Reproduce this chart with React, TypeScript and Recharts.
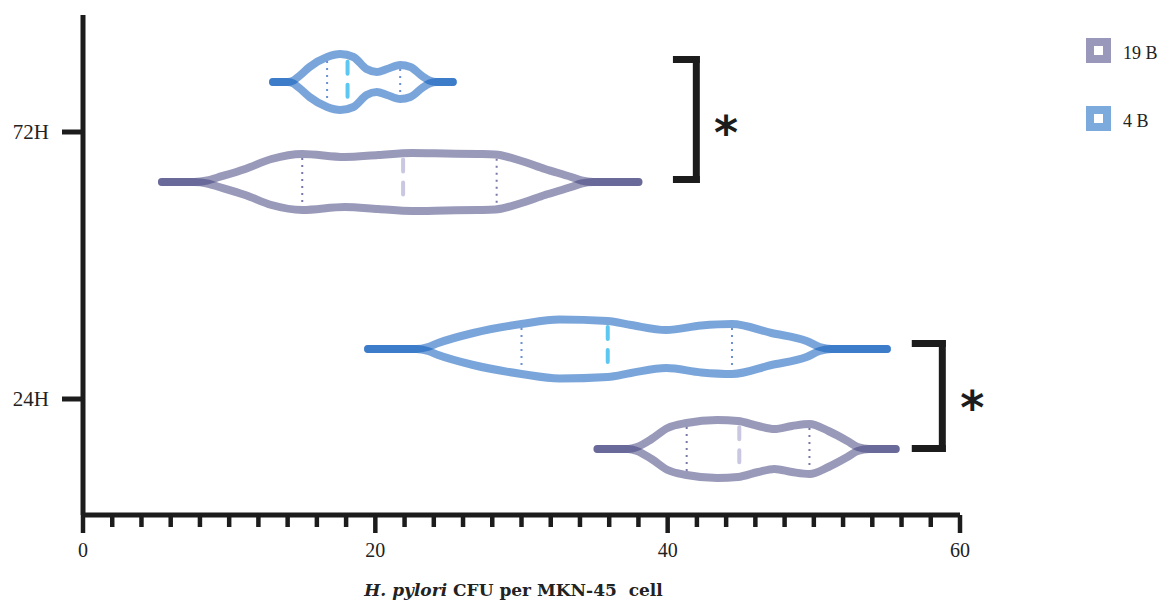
import React from 'react';
import {
  ComposedChart, Line, XAxis, YAxis, ReferenceLine, ReferenceDot, Legend,
} from 'recharts';

// y axis is a layout scale: groups sit at fixed heights, violins above/below
const groupLabels = ['24H', '72H'];
const groupPos = [116, 383];
const strainLabels = ['19 B', '4 B'];
const strainOffset = [-50, 50];

const xTicks = [
  0, 2, 4, 6, 8, 10, 12, 14, 16, 18, 20, 22, 24, 26, 28, 30,
  32, 34, 36, 38, 40, 42, 44, 46, 48, 50, 52, 54, 56, 58, 60,
];

// CFU grid and kernel density (half width) for each violin
const cfu72h4b = [13.0, 14.0, 14.4, 14.8, 15.5, 16.7, 17.6, 18.5, 19.4, 20.1, 20.8, 21.7, 22.4, 23.2, 23.7, 24.2, 25.3];
const dens72h4b = [0, 0, 1.5, 6, 15, 25, 28, 25, 13, 10, 13, 17, 15, 6, 1.5, 0, 0];

const cfu72h19b = [5.4, 7.6, 8.5, 9.2, 11.1, 12.9, 15.0, 17.9, 20.2, 22.5, 24.8, 27.0, 28.2, 30.0, 31.6, 33.4, 34.1, 34.9, 38.0];
const dens72h19b = [0, 0, 1.5, 4.5, 13, 23, 28, 25, 27, 29, 28.5, 28, 27.5, 21, 13, 5, 1.5, 0, 0];

const cfu24h4b = [19.5, 22.8, 23.6, 24.3, 26.7, 30.0, 32.6, 35.9, 37.5, 39.9, 42.3, 44.4, 47.1, 49.5, 50.4, 51.2, 55.0];
const dens24h4b = [0, 0, 2, 6, 16, 25, 29.5, 28, 24, 19, 23.5, 25, 16, 8, 2, 0, 0];

const cfu24h19b = [35.2, 37.3, 37.9, 38.9, 40.0, 41.3, 43.4, 44.8, 46.2, 47.3, 48.5, 49.7, 51.0, 52.3, 53.0, 53.8, 55.6];
const dens24h19b = [0, 0, 2, 10, 21, 26, 29, 28, 23, 20, 23, 25, 18, 8, 2, 0, 0];

// quartiles / medians
const q1Values = [16.7, 15.0, 30.0, 41.3];
const medianValues = [18.1, 21.9, 35.9, 44.9];
const q3Values = [21.7, 28.3, 44.4, 49.7];

const violins = [
  { group: 1, strain: 1, xs: cfu72h4b, ds: dens72h4b },
  { group: 1, strain: 0, xs: cfu72h19b, ds: dens72h19b },
  { group: 0, strain: 1, xs: cfu24h4b, ds: dens24h4b },
  { group: 0, strain: 0, xs: cfu24h19b, ds: dens24h19b },
];

// significance brackets: [x left, x spine], [y top, y bottom], star position
const bracketX = [[40.6, 41.96], [56.94, 58.79]];
const bracketY = [[455.5, 335.5], [171.5, 66.5]];
const starPos = [[44.0, 388.5], [60.84, 113]];

const strainStroke = ['#43427f', '#0a58bb'];
const strainLegend = ['#9997ba', '#7caadd'];
const strainMedian = ['#c9c7e1', '#5cc8f1'];
const strainQuart = ['#7978a8', '#6a8fd2'];
const ink = '#1c1c1c';

const densAt = (xs: number[], ds: number[], x: number) => {
  for (let i = 0; i < xs.length - 1; i++) {
    if (x >= xs[i] && x <= xs[i + 1]) {
      const t = (x - xs[i]) / (xs[i + 1] - xs[i]);
      return ds[i] + t * (ds[i + 1] - ds[i]);
    }
  }
  return 0;
};

const XTick = (props: any) => {
  const { x, y, payload } = props;
  const major = payload.value % 20 === 0;
  return (
    <g>
      <line x1={x} x2={x} y1={y} y2={y + (major ? 18 : 12)} stroke={ink} strokeWidth={4.5} />
      {major && (
        <text x={x} y={y + 42} textAnchor="middle" fill="#222" fontSize={20} fontFamily="'Liberation Serif', serif">
          {payload.value}
        </text>
      )}
    </g>
  );
};

const AxisTitle = (props: any) => {
  const vb = props.viewBox || {};
  const cx = vb.x + vb.width / 2;
  return (
    <text x={cx - 8} y={596} textAnchor="middle" fill="#222" fontSize={17} fontWeight="bold"
      fontFamily="'DejaVu Serif', serif" style={{ whiteSpace: 'pre' }}>
      <tspan fontStyle="italic">H. pylori</tspan>
      <tspan>{' CFU per MKN-45  cell'}</tspan>
    </text>
  );
};

const LegendBox = () => (
  <div style={{ fontFamily: "'Liberation Serif', serif", fontSize: 18, color: '#222' }}>
    {strainLabels.map((s, i) => (
      <div key={s} style={{ display: 'flex', alignItems: 'center', height: 26, marginBottom: 42 }}>
        <div style={{
          width: 25, height: 25, background: strainLegend[i], position: 'relative', marginRight: 12,
        }}>
          <div style={{ position: 'absolute', left: 8, top: 8, width: 9, height: 9, background: '#fff' }} />
        </div>
        <span style={{ marginTop: 6 }}>{s}</span>
      </div>
    ))}
  </div>
);

export default function App() {
  return (
    <div style={{ position: 'absolute', left: 0, top: 0, background: '#fff' }}>
      <ComposedChart width={1158} height={601} margin={{ top: 15, right: 198, bottom: 0, left: 0 }}>
        <XAxis
          type="number" dataKey="x" domain={[0, 60]} ticks={xTicks} allowDataOverflow
          height={86} tickSize={0} tickMargin={0} tickLine={false} interval={0}
          axisLine={{ stroke: ink, strokeWidth: 5 }} tick={<XTick />}
          label={<AxisTitle />}
        />
        <YAxis
          type="number" dataKey="y" domain={[0, 500]} ticks={groupPos} allowDataOverflow
          width={83} tickSize={21} tickMargin={13}
          tickFormatter={(v: number) => groupLabels[groupPos.indexOf(v)]}
          axisLine={{ stroke: ink, strokeWidth: 5 }}
          tickLine={{ stroke: ink, strokeWidth: 5 }}
          tick={{ fill: '#222', fontSize: 21, fontFamily: "'Liberation Serif', serif" }}
        />
        <Legend
          verticalAlign="middle" align="center" layout="vertical"
          wrapperStyle={{ top: 37, left: 1086, width: 80 }}
          content={<LegendBox />}
        />
        {violins.map((v, i) => {
          const c = groupPos[v.group] + strainOffset[v.strain];
          const upper = v.xs.map((x, k) => ({ x, y: c + v.ds[k] }));
          const lower = v.xs.map((x, k) => ({ x, y: c - v.ds[k] }));
          return [
            <Line key={`u${i}`} data={upper} dataKey="y" type="monotone" stroke={strainStroke[v.strain]}
              strokeOpacity={0.54} strokeWidth={8} strokeLinecap="round" dot={false} activeDot={false}
              isAnimationActive={false} legendType="none" />,
            <Line key={`l${i}`} data={lower} dataKey="y" type="monotone" stroke={strainStroke[v.strain]}
              strokeOpacity={0.54} strokeWidth={8} strokeLinecap="round" dot={false} activeDot={false}
              isAnimationActive={false} legendType="none" />,
          ];
        })}
        {violins.map((v, i) => {
          const c = groupPos[v.group] + strainOffset[v.strain];
          const hq1 = densAt(v.xs, v.ds, q1Values[i]) - 4;
          const hq3 = densAt(v.xs, v.ds, q3Values[i]) - 4;
          const hm = densAt(v.xs, v.ds, medianValues[i]) - 6;
          return [
            <ReferenceLine key={`q1${i}`} segment={[{ x: q1Values[i], y: c + hq1 }, { x: q1Values[i], y: c - hq1 }]}
              stroke={strainQuart[v.strain]} strokeWidth={2} strokeDasharray="2 5" />,
            <ReferenceLine key={`q3${i}`} segment={[{ x: q3Values[i], y: c + hq3 }, { x: q3Values[i], y: c - hq3 }]}
              stroke={strainQuart[v.strain]} strokeWidth={2} strokeDasharray="2 5" />,
            <ReferenceLine key={`m${i}`} segment={[{ x: medianValues[i], y: c + hm }, { x: medianValues[i], y: c - hm }]}
              stroke={strainMedian[v.strain]} strokeWidth={4} strokeDasharray="12 11" strokeLinecap="round" />,
          ];
        })}
        {bracketX.map((bx, i) => {
          const by = bracketY[i];
          return [
            <ReferenceLine key={`bt${i}`} ifOverflow="visible" segment={[{ x: bx[0], y: by[0] }, { x: bx[1], y: by[0] }]}
              stroke={ink} strokeWidth={7} strokeLinecap="square" />,
            <ReferenceLine key={`bv${i}`} ifOverflow="visible" segment={[{ x: bx[1], y: by[0] }, { x: bx[1], y: by[1] }]}
              stroke={ink} strokeWidth={7} strokeLinecap="square" />,
            <ReferenceLine key={`bb${i}`} ifOverflow="visible" segment={[{ x: bx[0], y: by[1] }, { x: bx[1], y: by[1] }]}
              stroke={ink} strokeWidth={7} strokeLinecap="square" />,
            <ReferenceDot key={`s${i}`} x={starPos[i][0]} y={starPos[i][1]} r={0} ifOverflow="visible"
              fill="none" stroke="none"
              label={(p: any) => (
                <text x={p.viewBox.x} y={p.viewBox.y + 22} textAnchor="middle" fill={ink}
                  fontSize={46} fontWeight="bold" fontFamily="'DejaVu Sans', sans-serif">*</text>
              )} />,
          ];
        })}
      </ComposedChart>
    </div>
  );
}
